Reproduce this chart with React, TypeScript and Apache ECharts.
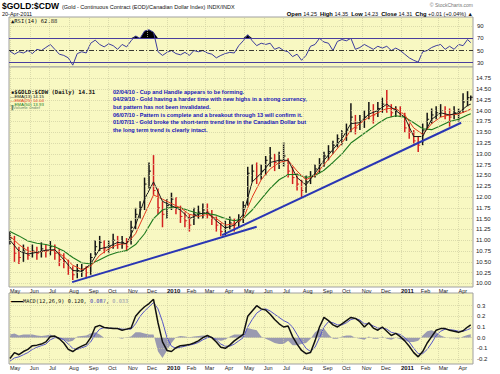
import React, { useEffect, useRef } from "react";
import * as echarts from "echarts";

// ---------- data (weekly samples) ----------
const FIRST_WEEK = [2009, 4, 1];
const LAST_DAY = [2011, 3, 20];

const closes = [
  11.05, 10.7, 10.6, 10.75, 10.65, 10.75, 10.7, 10.8, 10.75, 10.85,
  10.7, 10.55, 10.5, 10.35, 10.2, 10.3, 10.3, 10.25, 10.6, 10.85,
  10.95, 10.8, 10.85, 11.0, 10.9, 10.95, 10.85, 11.3, 11.6, 11.75,
  12.3, 12.6, 12.15, 11.75, 11.6, 11.8, 11.95, 11.75, 11.55, 11.45,
  11.35, 11.6, 11.65, 11.7, 11.65, 11.5, 11.35, 11.2, 11.3, 11.4,
  11.35, 11.45, 11.8, 12.55, 12.6, 12.5, 12.6, 12.85, 12.9, 12.8,
  12.85, 12.95, 12.6, 12.45, 12.3, 12.15, 12.35, 12.5, 12.65, 12.75,
  12.95, 13.05, 13.2, 13.35, 13.4, 13.55, 13.85, 13.6, 13.75, 13.85,
  14.0, 13.9, 14.05, 14.15, 14.1, 13.95, 14.0, 13.95, 13.6, 13.5,
  13.3, 13.2, 13.55, 13.8, 13.9, 13.95, 14.0, 13.9, 13.85, 13.95,
  13.95, 14.2, 14.3, 14.31,
];
const highs = [
  11.2, 11.1, 10.85, 10.9, 10.85, 10.9, 10.85, 10.95, 10.9, 10.98,
  10.9, 10.8, 10.7, 10.55, 10.4, 10.45, 10.45, 10.4, 10.7, 11.0,
  11.1, 11.0, 11.0, 11.15, 11.1, 11.1, 11.05, 11.45, 11.75, 11.9,
  12.45, 12.8, 12.97, 12.2, 11.9, 11.95, 12.1, 12.0, 11.8, 11.65,
  11.6, 11.75, 11.8, 11.85, 11.85, 11.7, 11.55, 11.4, 11.45, 11.55,
  11.5, 11.6, 11.9, 12.7, 12.75, 12.8, 12.75, 12.95, 13.16, 13.0,
  13.05, 13.27, 12.9, 12.7, 12.55, 12.4, 12.5, 12.6, 12.75, 12.9,
  13.05, 13.2, 13.3, 13.45, 13.55, 13.7, 14.17, 13.9, 13.9, 14.0,
  14.2, 14.15, 14.2, 14.3, 14.48, 14.15, 14.1, 14.1, 13.95, 13.7,
  13.55, 13.4, 13.7, 13.95, 14.05, 14.1, 14.15, 14.1, 14.05, 14.1,
  14.05, 14.4, 14.45, 14.35,
];
const lows = [
  10.9, 10.5, 10.45, 10.5, 10.55, 10.6, 10.55, 10.6, 10.6, 10.65,
  10.55, 10.4, 10.35, 10.2, 10.08, 10.12, 10.15, 10.12, 10.2, 10.65,
  10.75, 10.7, 10.7, 10.8, 10.8, 10.8, 10.75, 10.9, 11.25, 11.5,
  11.7, 12.2, 12.05, 11.6, 11.3, 11.5, 11.7, 11.6, 11.4, 11.3,
  11.2, 11.35, 11.5, 11.5, 11.5, 11.35, 11.2, 11.1, 11.12, 11.25,
  11.2, 11.3, 11.4, 11.8, 12.35, 12.3, 12.4, 12.5, 12.7, 12.6,
  12.65, 12.7, 12.45, 12.3, 12.15, 12.0, 12.1, 12.3, 12.45, 12.55,
  12.7, 12.85, 13.0, 13.15, 13.2, 13.3, 13.5, 13.45, 13.55, 13.6,
  13.8, 13.7, 13.85, 13.95, 13.95, 13.85, 13.85, 13.85, 13.5, 13.35,
  13.2, 13.04, 13.2, 13.55, 13.7, 13.8, 13.85, 13.8, 13.63, 13.8,
  13.75, 13.95, 14.1, 14.23,
];

// moving averages, every second week + last day
const ema13 = [
  11.0, 10.75, 10.68, 10.72, 10.77, 10.78, 10.55, 10.3, 10.28, 10.45,
  10.8, 10.85, 10.95, 10.92, 11.35, 11.95, 12.35, 11.9, 11.8, 11.7,
  11.5, 11.6, 11.65, 11.45, 11.28, 11.35, 11.6, 12.35, 12.55, 12.8,
  12.85, 12.85, 12.45, 12.28, 12.55, 12.85, 13.1, 13.35, 13.7, 13.72,
  13.92, 14.0, 14.15, 14.0, 13.85, 13.4, 13.4, 13.8, 13.95, 13.9,
  13.95, 14.12, 14.15,
];
const ema25 = [
  11.1, 10.9, 10.75, 10.72, 10.75, 10.77, 10.62, 10.42, 10.32, 10.4,
  10.65, 10.8, 10.9, 10.92, 11.15, 11.6, 12.05, 11.95, 11.85, 11.75,
  11.6, 11.55, 11.6, 11.5, 11.35, 11.38, 11.5, 12.0, 12.4, 12.65,
  12.8, 12.85, 12.6, 12.4, 12.5, 12.75, 13.0, 13.25, 13.55, 13.7,
  13.85, 13.95, 14.05, 14.05, 13.9, 13.6, 13.45, 13.7, 13.85, 13.9,
  13.92, 14.0, 14.04,
];
const ema50 = [
  11.2, 11.1, 10.98, 10.93, 10.9, 10.85, 10.75, 10.6, 10.48, 10.45,
  10.55, 10.65, 10.72, 10.76, 10.9, 11.15, 11.5, 11.7, 11.77, 11.75,
  11.68, 11.62, 11.62, 11.58, 11.5, 11.45, 11.5, 11.7, 11.95, 12.2,
  12.4, 12.52, 12.52, 12.45, 12.5, 12.62, 12.8, 13.0, 13.25, 13.4,
  13.55, 13.7, 13.83, 13.88, 13.85, 13.72, 13.58, 13.56, 13.65, 13.75,
  13.8, 13.9, 13.93,
];

const rsi14 = [
  49, 44, 48, 46, 50, 45, 52, 50, 55, 60,
  52, 44, 42, 38, 26, 45, 48, 46, 62, 67,
  60, 56, 61, 58, 52, 60, 56, 66, 74, 70,
  82, 84, 80, 48, 42, 47, 50, 45, 43, 47,
  42, 50, 48, 50, 46, 44, 38, 42, 45, 47,
  46, 58, 66, 76, 66, 58, 62, 60, 62, 52,
  55, 50, 48, 40, 44, 34, 42, 57, 60, 70,
  64, 62, 50, 65, 68, 66, 70, 52, 55, 60,
  56, 52, 57, 54, 57, 50, 54, 50, 44, 38,
  34, 31, 48, 50, 55, 58, 60, 52, 57, 52,
  60, 58, 68, 63,
];

const macdLine = [
  -0.196, -0.14, -0.16, -0.13, -0.11, -0.075, -0.07, -0.06, -0.04, 0.01,
  0.015, -0.01, -0.05, -0.11, -0.13, -0.1, -0.08, -0.06, 0.0, 0.1,
  0.115, 0.095, 0.09, 0.087, 0.085, 0.07, 0.08, 0.09, 0.2, 0.25,
  0.29, 0.32, 0.36, 0.14, -0.04, -0.12, -0.13, -0.095, -0.075, -0.07,
  -0.065, -0.05, -0.03, 0.0, 0.02, 0.0, -0.04, -0.09, -0.1, -0.07,
  -0.03, 0.0, 0.03, 0.2, 0.25, 0.3, 0.27, 0.26, 0.22, 0.17,
  0.13, 0.1, 0.11, 0.01, -0.06, -0.12, -0.15, -0.14, -0.03, 0.1,
  0.19, 0.16, 0.12, 0.1, 0.13, 0.16, 0.19, 0.18, 0.15, 0.1,
  0.14, 0.09, 0.07, 0.1, 0.06, 0.02, 0.04, 0.01, -0.03, -0.08,
  -0.14, -0.18, -0.13, -0.05, 0.01, 0.07, 0.085, 0.085, 0.07, 0.06,
  0.05, 0.065, 0.1, 0.12,
];
const signalLine = [
  -0.22, -0.19, -0.18, -0.16, -0.14, -0.11, -0.09, -0.075, -0.06, -0.02,
  0.0, 0.0, -0.02, -0.06, -0.1, -0.11, -0.095, -0.08, -0.04, 0.03,
  0.08, 0.095, 0.09, 0.088, 0.085, 0.08, 0.078, 0.08, 0.13, 0.2,
  0.25, 0.29, 0.33, 0.27, 0.15, 0.0, -0.08, -0.1, -0.09, -0.08,
  -0.07, -0.06, -0.045, -0.02, 0.0, 0.005, -0.02, -0.06, -0.08, -0.08,
  -0.06, -0.03, 0.0, 0.1, 0.17, 0.23, 0.26, 0.27, 0.25, 0.22,
  0.19, 0.16, 0.14, 0.1, 0.03, -0.04, -0.1, -0.13, -0.09, 0.0,
  0.1, 0.15, 0.14, 0.12, 0.12, 0.14, 0.17, 0.18, 0.165, 0.13,
  0.13, 0.11, 0.09, 0.09, 0.08, 0.05, 0.04, 0.03, 0.0, -0.04,
  -0.1, -0.15, -0.15, -0.11, -0.05, 0.02, 0.06, 0.08, 0.075, 0.07,
  0.06, 0.06, 0.075, 0.087,
];
const macdHist = [
  0.03, 0.04, 0.02, 0.03, 0.03, 0.03, 0.02, 0.015, 0.02, 0.03,
  0.01, -0.01, -0.02, -0.04, -0.03, 0.01, 0.015, 0.02, 0.04, 0.05,
  0.03, 0.0, 0.0, 0.0, 0.0, -0.01, 0.005, 0.01, 0.05, 0.05,
  0.04, 0.03, 0.03, -0.13, -0.19, -0.12, -0.05, 0.005, 0.015, 0.01,
  0.005, 0.01, 0.015, 0.02, 0.02, -0.005, -0.02, -0.03, -0.02, 0.01,
  0.03, 0.03, 0.03, 0.09, 0.08, 0.07, 0.01, -0.01, -0.03, -0.05,
  -0.06, -0.06, -0.03, -0.07, -0.07, -0.06, -0.05, -0.01, 0.05, 0.08,
  0.085, 0.03, -0.01, -0.01, 0.01, 0.02, 0.02, 0.0, -0.01, -0.02,
  0.01, -0.01, -0.01, 0.01, -0.01, -0.02, 0.0, -0.015, -0.03, -0.04,
  -0.04, -0.03, 0.02, 0.06, 0.07, 0.05, 0.02, 0.005, -0.005, -0.005,
  -0.01, 0.01, 0.025, 0.033,
];

// hand-drawn trend lines: [year, month(0-based), day, price]
const trendLong = [
  [2009, 7, 6, 10.03],
  [2010, 4, 21, 11.31],
];
const trendRecent = [
  [2010, 2, 28, 11.12],
  [2011, 3, 5, 13.72],
];

const monthLabels = [
  "May", "Jun", "Jul", "Aug", "Sep", "Oct", "Nov", "Dec",
  "2010", "Feb", "Mar", "Apr", "May", "Jun", "Jul", "Aug", "Sep", "Oct", "Nov", "Dec",
  "2011", "Feb", "Mar", "Apr",
];
const priceTicks = [10, 10.25, 10.5, 10.75, 11, 11.25, 11.5, 11.75, 12, 12.25, 12.5, 12.75, 13, 13.25, 13.5, 13.75, 14, 14.25, 14.5, 14.75];
const rsiTicks = [30, 50, 70, 90];
const macdTicks = [-0.2, -0.1, 0, 0.1, 0.2, 0.3];

const notes = [
  "02/04/10 - Cup and Handle appears to be forming.",
  "04/29/10 - Gold having a harder time with new highs in a strong currency,",
  "but pattern has not been invalidated.",
  "06/07/10 - Pattern is complete and a breakout through 13 will confirm it.",
  "01/07/11 - Gold broke the short-term trend line in the Canadian Dollar but",
  "the long term trend is clearly intact.",
];

// ---------- component ----------
const FONT = "Liberation Sans";
const PANEL_BG = "#f8f8c2";
const GRID_COLOR = "#cfcfa0";

export default function App() {
  const ref = useRef<HTMLDivElement>(null);

  useEffect(() => {
    if (!ref.current) return;
    const chart = echarts.init(ref.current, null, { renderer: "svg" });

    const n = closes.length;
    const weekTimes = closes.map((_, i) =>
      i < n - 1
        ? new Date(FIRST_WEEK[0], FIRST_WEEK[1], FIRST_WEEK[2] + 7 * i).getTime()
        : new Date(LAST_DAY[0], LAST_DAY[1], LAST_DAY[2]).getTime()
    );
    const emaTimes = ema13.map((_, k) => (k < ema13.length - 1 ? weekTimes[2 * k] : weekTimes[n - 1]));
    const monthTimes = monthLabels.map((_, k) => new Date(2009, 4 + k, 1).getTime());

    const tMin = new Date(2009, 3, 29, 12).getTime();
    const tMax = new Date(2011, 3, 23, 12).getTime();

    const pair = (times: number[], vals: number[]) => vals.map((v, i) => [times[i], v]);
    const trend = (pts: number[][]) => pts.map((p) => [new Date(p[0], p[1], p[2]).getTime(), p[3]]);
    const labelFor = (v: number) => {
      let best = 0;
      let bd = Infinity;
      monthTimes.forEach((t, k) => {
        const d = Math.abs(t - v);
        if (d < bd) { bd = d; best = k; }
      });
      return monthLabels[best];
    };

    const gridLines = (yVals: number[]) => ({
      silent: true,
      symbol: ["none", "none"],
      label: { show: false },
      lineStyle: { color: GRID_COLOR, type: [1, 1], width: 0.7 },
      data: [
        ...monthTimes.map((t) => ({ xAxis: t })),
        ...yVals.map((v) => ({ yAxis: v })),
      ],
    });

    const monthAxisLabel = (show: boolean) => ({
      show,
      customValues: monthTimes,
      align: "left",
      margin: 1,
      fontSize: 5.5,
      lineHeight: 6,
      fontFamily: FONT,
      color: "#222",
      hideOverlap: false,
      formatter: (v: number) => {
        const s = labelFor(v);
        return /^\d/.test(s) ? "{b|" + s + "}" : s;
      },
      rich: { b: { fontWeight: "bold", fontSize: 6, lineHeight: 6, fontFamily: FONT, color: "#111" } },
    });

    const xAxes = [0, 1, 2].map((g) => ({
      type: "value",
      gridIndex: g,
      min: tMin,
      max: tMax,
      scale: true,
      axisLine: { show: false },
      axisTick: { show: false },
      splitLine: { show: false },
      axisLabel: monthAxisLabel(g > 0),
    }));

    const yBase = {
      position: "right",
      axisLine: { show: false },
      axisTick: { show: false },
      splitLine: { show: false },
    };

    const option: any = {
      animation: false,
      backgroundColor: "#ffffff",
      textStyle: { fontFamily: FONT },
      grid: [
        { left: 9, right: 27, top: 17, height: 50, show: true, backgroundColor: PANEL_BG, borderColor: "#a0a0a0", borderWidth: 1 },
        { left: 9, right: 27, top: 67, height: 220, show: true, backgroundColor: PANEL_BG, borderColor: "#a0a0a0", borderWidth: 1 },
        { left: 9, right: 27, top: 293, height: 71, show: true, backgroundColor: PANEL_BG, borderColor: "#a0a0a0", borderWidth: 1 },
      ],
      xAxis: xAxes,
      yAxis: [
        {
          ...yBase, type: "value", gridIndex: 0, min: 23, max: 105,
          axisLabel: { customValues: rsiTicks, fontSize: 6, margin: 4, color: "#222", fontFamily: FONT },
        },
        {
          ...yBase, type: "value", gridIndex: 1, min: 9.917, max: 15.01,
          axisLabel: { customValues: priceTicks, fontSize: 6, margin: 3, color: "#222", fontFamily: FONT, formatter: (v: number) => v.toFixed(2) },
        },
        {
          ...yBase, type: "value", gridIndex: 2, min: -0.247, max: 0.419,
          axisLabel: { customValues: macdTicks, fontSize: 6, margin: 4, color: "#222", fontFamily: FONT, formatter: (v: number) => v.toFixed(1) },
        },
      ],
      series: [
        // gridlines
        { type: "line", xAxisIndex: 0, yAxisIndex: 0, data: [], z: 1, markLine: gridLines([90]) },
        { type: "line", xAxisIndex: 1, yAxisIndex: 1, data: [], z: 1, markLine: gridLines(priceTicks) },
        { type: "line", xAxisIndex: 2, yAxisIndex: 2, data: [], z: 1, markLine: gridLines(macdTicks) },
        // RSI
        {
          type: "line", xAxisIndex: 0, yAxisIndex: 0, z: 3, showSymbol: false, silent: true,
          data: pair(weekTimes, rsi14.map((v) => Math.max(v, 70))),
          lineStyle: { width: 0 },
          areaStyle: { origin: 70, color: "#000000", opacity: 1 },
        },
        {
          type: "line", xAxisIndex: 0, yAxisIndex: 0, z: 4, showSymbol: false, silent: true,
          data: pair(weekTimes, rsi14),
          lineStyle: { color: "#3c3c9c", width: 1 },
          markLine: {
            silent: true, symbol: ["none", "none"], label: { show: false },
            data: [
              { yAxis: 70, lineStyle: { color: "#4a3f9e", width: 1.2, type: "solid" } },
              { yAxis: 30, lineStyle: { color: "#4a3f9e", width: 1.2, type: "solid" } },
              { yAxis: 50, lineStyle: { color: "#222", width: 0.9, type: [5, 2, 1, 2] } },
            ],
          },
        },
        // price bars
        {
          type: "custom", xAxisIndex: 1, yAxisIndex: 1, z: 3, silent: true,
          data: closes.map((c, i) => [weekTimes[i], lows[i], highs[i], c, i > 0 && c < closes[i - 1] ? 1 : 0]),
          encode: { x: 0, y: [1, 2, 3] },
          renderItem: (params: any, api: any) => {
            const t = api.value(0);
            const lo = api.coord([t, api.value(1)]);
            const hi = api.coord([t, api.value(2)]);
            const cl = api.coord([t, api.value(3)]);
            const color = api.value(4) ? "#d42020" : "#141414";
            return {
              type: "group",
              children: [
                { type: "line", shape: { x1: lo[0], y1: lo[1], x2: hi[0], y2: hi[1] }, style: { stroke: color, lineWidth: 1.5 } },
                { type: "line", shape: { x1: cl[0], y1: cl[1], x2: cl[0] + 2, y2: cl[1] }, style: { stroke: color, lineWidth: 1 } },
              ],
            };
          },
        },
        { type: "line", xAxisIndex: 1, yAxisIndex: 1, z: 4, showSymbol: false, silent: true, data: pair(emaTimes, ema50), lineStyle: { color: "#1e7a1e", width: 1.1 } },
        { type: "line", xAxisIndex: 1, yAxisIndex: 1, z: 4, showSymbol: false, silent: true, data: pair(emaTimes, ema25), lineStyle: { color: "#e2381c", width: 1 } },
        { type: "line", xAxisIndex: 1, yAxisIndex: 1, z: 4, showSymbol: false, silent: true, data: pair(emaTimes, ema13), lineStyle: { color: "#1a1a1a", width: 1 } },
        { type: "line", xAxisIndex: 1, yAxisIndex: 1, z: 5, showSymbol: false, silent: true, data: trend(trendLong), lineStyle: { color: "#2a36b4", width: 2 } },
        { type: "line", xAxisIndex: 1, yAxisIndex: 1, z: 5, showSymbol: false, silent: true, data: trend(trendRecent), lineStyle: { color: "#2a36b4", width: 2 } },
        // MACD
        {
          type: "line", xAxisIndex: 2, yAxisIndex: 2, z: 3, showSymbol: false, silent: true,
          data: pair(weekTimes, macdHist),
          lineStyle: { width: 0 },
          areaStyle: { origin: 0, color: "#9a9ab0", opacity: 1 },
        },
        { type: "line", xAxisIndex: 2, yAxisIndex: 2, z: 4, showSymbol: false, silent: true, data: pair(weekTimes, signalLine), lineStyle: { color: "#5555c8", width: 1 } },
        { type: "line", xAxisIndex: 2, yAxisIndex: 2, z: 5, showSymbol: false, silent: true, data: pair(weekTimes, macdLine), lineStyle: { color: "#111", width: 1.5 } },
      ],
      graphic: [
        { type: "text", x: 2, y: 6, style: { text: "$GOLD:$CDW", fontFamily: FONT, fontWeight: "bold", fontSize: 8.5, fill: "#000", verticalAlign: "middle" } },
        { type: "text", x: 62, y: 6.5, style: { text: "(Gold - Continuous Contract (EOD)/Canadian Dollar Index) INDX/INDX", fontFamily: FONT, fontSize: 5.5, fill: "#111", verticalAlign: "middle" } },
        { type: "text", x: 2, y: 13.5, style: { text: "20-Apr-2011", fontFamily: FONT, fontSize: 5.5, fill: "#111", verticalAlign: "middle" } },
        { type: "text", x: 473, y: 5, style: { text: "\u00a9 StockCharts.com", fontFamily: FONT, fontSize: 5, fill: "#777", align: "right", verticalAlign: "middle" } },
        {
          type: "text", x: 473, y: 14, style: {
            text: "{b|Open} 14.25  {b|High} 14.35  {b|Low} 14.23  {b|Close} 14.31  {b|Chg} +0.01 (+0.04%) \u25b2",
            fontFamily: FONT, fontSize: 5.5, fill: "#111", align: "right", verticalAlign: "middle",
            rich: { b: { fontWeight: "bold", fontFamily: FONT, fontSize: 5.8, fill: "#000" } },
          },
        },
        { type: "text", x: 11, y: 21, z: 10, style: { text: "\u25b2RSI(14) 62.88", fontFamily: "DejaVu Sans Mono", fontSize: 5.5, fill: "#111", verticalAlign: "middle" } },
        { type: "text", x: 11, y: 92.3, z: 10, style: { text: "\u25aa$GOLD:$CDW (Daily) 14.31", fontFamily: "DejaVu Sans Mono", fontWeight: "bold", fontSize: 5.6, fill: "#111", verticalAlign: "middle" } },
        { type: "text", x: 10, y: 96.5, z: 10, style: { text: "\u2014EMA(13) 14.15", fontFamily: FONT, fontSize: 4.4, fill: "#111", verticalAlign: "middle" } },
        { type: "text", x: 10, y: 100.3, z: 10, style: { text: "\u2014EMA(25) 14.04", fontFamily: FONT, fontSize: 4.4, fill: "#e2381c", verticalAlign: "middle" } },
        { type: "text", x: 10, y: 104, z: 10, style: { text: "\u2014EMA(50) 13.93", fontFamily: FONT, fontSize: 4.4, fill: "#1e7a1e", verticalAlign: "middle" } },
        { type: "text", x: 10, y: 107.8, z: 10, style: { text: "\u2590Volume undef", fontFamily: FONT, fontSize: 4.4, fill: "#6a8a6a", verticalAlign: "middle" } },
        { type: "text", x: 11, y: 300.5, z: 10, style: { text: "{k|\u2014}MACD(12,26,9) 0.120, {s|0.087}, {h|0.033}", fontFamily: "DejaVu Sans Mono", fontSize: 5.3, lineHeight: 6, fill: "#111", verticalAlign: "middle", rich: { k: { fill: "#000", fontWeight: "bold" }, s: { fill: "#4a4ab8" }, h: { fill: "#9a9ab0" } } } },
        ...notes.map((t, k) => ({
          type: "text", x: 113, y: 91.5 + k * 7.7, z: 10,
          style: { text: t, fontFamily: FONT, fontWeight: "bold", fontSize: 5.6, fill: "#1616b8", verticalAlign: "middle" },
        })),
      ],
    };

    chart.setOption(option);
    return () => chart.dispose();
  }, []);

  return (
    <div
      ref={ref}
      style={{ position: "fixed", left: 0, top: 0, width: 500, height: 374, background: "#fff" }}
    />
  );
}
